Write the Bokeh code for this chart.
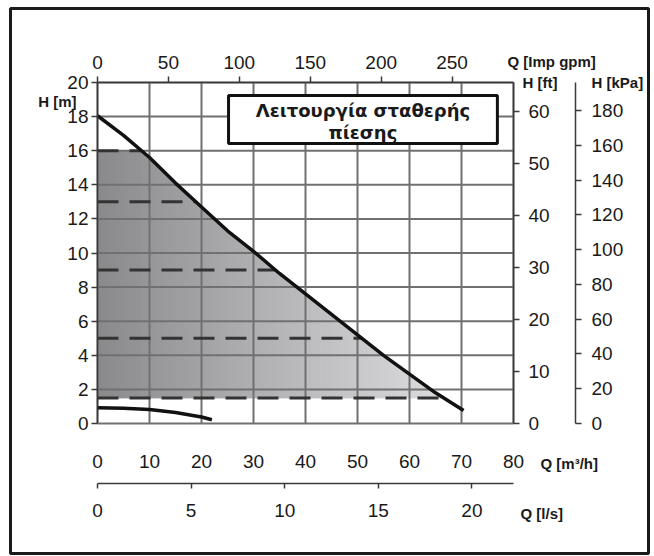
import numpy as np
from bokeh.plotting import figure
from bokeh.models import LinearAxis, Range1d, FixedTicker, Label
from bokeh.embed import file_html
from bokeh.resources import INLINE

# ---------------- data ----------------
pump_q = [0, 5, 10, 15, 20, 25, 30, 35, 40, 45, 50, 55, 60, 65, 70.4]
pump_h = [18.05, 16.9, 15.6, 14.1, 12.7, 11.3, 10.1, 8.8, 7.6, 6.4, 5.2, 4.0, 2.9, 1.8, 0.76]

low_q = [0, 5, 10, 15, 20, 22]
low_h = [0.92, 0.9, 0.82, 0.65, 0.38, 0.22]

dash_levels = [16, 13, 9, 5, 1.5]
zone_top = 16
zone_bottom = 1.5

h_m_ticks = list(range(0, 21, 2))
q_m3h_ticks = list(range(0, 81, 10))
q_gpm_ticks = [0, 50, 100, 150, 200, 250]
q_ls_ticks = [0, 5, 10, 15, 20]
h_ft_ticks = [0, 10, 20, 30, 40, 50, 60]
h_kpa_ticks = [0, 20, 40, 60, 80, 100, 120, 140, 160, 180]

title_lines = ["Λειτουργία σταθερής", "πίεσης"]
box_q = [25.2, 76.9]
box_h = [16.42, 19.24]

Q_MAX = 80
H_MAX = 20
M3H_TO_GPM = 3.6662
M3H_TO_LS = 1 / 3.6
M_TO_FT = 3.28084
M_TO_KPA = 9.80665

# ---------------- layout (pixels) ----------------
CANVAS_W, CANVAS_H = 652, 555
FRAME_L, FRAME_T, FRAME_R, FRAME_B = 10, 8, 648, 553
ORIGIN_X, ORIGIN_Y = 97, 423        # page px of Q=0 / H=0
PX_Q, PX_H = 5.2, 17.05             # px per unit


def qx(px):
    return (px - ORIGIN_X) / PX_Q


def hy(py):
    return (ORIGIN_Y - py) / PX_H


x_lo, x_hi = qx(FRAME_L), qx(FRAME_R)
y_lo, y_hi = hy(FRAME_B), hy(FRAME_T)

TICK_FONT = "Liberation Sans"
TICK_SIZE = "19px"
TXT = "#1a1a1a"
AXC = "#3a3a3a"
GRID = "#707070"

p = figure(frame_width=FRAME_R - FRAME_L, frame_height=FRAME_B - FRAME_T,
           min_border_left=FRAME_L, min_border_right=CANVAS_W - FRAME_R,
           min_border_top=FRAME_T, min_border_bottom=CANVAS_H - FRAME_B,
           x_range=Range1d(x_lo, x_hi), y_range=Range1d(y_lo, y_hi),
           x_axis_location=None, y_axis_location=None,
           toolbar_location=None, output_backend="svg")
p.background_fill_color = "white"
p.border_fill_color = "white"
p.outline_line_color = "#1a1a1a"
p.outline_line_width = 3
p.xgrid.visible = False
p.ygrid.visible = False

p.extra_x_ranges = {"gpm": Range1d(x_lo * M3H_TO_GPM, x_hi * M3H_TO_GPM),
                    "ls": Range1d(x_lo * M3H_TO_LS, x_hi * M3H_TO_LS)}
p.extra_y_ranges = {"ft": Range1d(y_lo * M_TO_FT, y_hi * M_TO_FT),
                    "kpa": Range1d(y_lo * M_TO_KPA, y_hi * M_TO_KPA)}

# ---------------- grid (chart area only) ----------------
p.segment(x0=q_m3h_ticks, y0=[0] * len(q_m3h_ticks),
          x1=q_m3h_ticks, y1=[H_MAX] * len(q_m3h_ticks),
          line_color=GRID, line_width=2, level="underlay")
p.segment(x0=[0] * len(h_m_ticks), y0=h_m_ticks,
          x1=[Q_MAX] * len(h_m_ticks), y1=h_m_ticks,
          line_color=GRID, line_width=2, level="underlay")

# ---------------- shaded zone with horizontal gradient ----------------
q_end = float(np.interp(zone_bottom, pump_h[::-1], pump_q[::-1]))
edges = np.linspace(0, q_end, 80)


def top_of(q):
    return np.minimum(zone_top, np.interp(q, pump_q, pump_h))


xs, ys, cols = [], [], []
n = len(edges) - 1
for i in range(n):
    a, b = edges[i], edges[i + 1]
    xs.append([a, a, b, b])
    ys.append([zone_bottom, float(top_of(a)), float(top_of(b)), zone_bottom])
    t = i / (n - 1)
    g = int(round(138 + t * (220 - 138)))
    cols.append("#%02x%02x%02x" % (g, g, min(255, g + 3)))
p.patches(xs, ys, fill_color=cols, line_color=cols, line_width=1, level="image")

# ---------------- dashed pressure levels ----------------
dash_end = [float(np.interp(lv, pump_h[::-1], pump_q[::-1])) for lv in dash_levels]
p.segment(x0=[0] * len(dash_levels), y0=dash_levels, x1=dash_end, y1=dash_levels,
          line_color="#333333", line_width=3, line_dash="21 11")

# ---------------- curves ----------------
p.line(pump_q, pump_h, line_color="#111111", line_width=3.5)
p.line(low_q, low_h, line_color="#111111", line_width=3.5)

# ---------------- title box ----------------
p.quad(left=[box_q[0]], right=[box_q[1]], bottom=[box_h[0]], top=[box_h[1]],
       fill_color="white", line_color="#111111", line_width=3)
mid_q = (box_q[0] + box_q[1]) / 2
for txt, py in zip(title_lines, [110, 132]):
    p.add_layout(Label(x=mid_q, y=hy(py), text=txt, text_align="center",
                       text_baseline="middle", text_font="DejaVu Sans",
                       text_font_style="bold", text_font_size="18px",
                       text_color=TXT))


# ---------------- axes ----------------
def style_axis(ax, ticks, standoff, tick_out=6, line=True):
    ax.ticker = FixedTicker(ticks=ticks)
    ax.minor_tick_line_color = None
    ax.major_tick_in = 0
    ax.major_tick_out = tick_out
    ax.major_tick_line_color = AXC if tick_out else None
    ax.major_tick_line_width = 1.5
    ax.axis_line_color = AXC if line else None
    ax.axis_line_width = 1.5
    ax.major_label_standoff = standoff
    ax.major_label_text_font = TICK_FONT
    ax.major_label_text_font_size = TICK_SIZE
    ax.major_label_text_color = TXT
    return ax


ax_left = style_axis(LinearAxis(fixed_location=0, bounds=(0, H_MAX)), h_m_ticks, 3)
p.add_layout(ax_left, "left")

ax_top = style_axis(LinearAxis(x_range_name="gpm", fixed_location=H_MAX,
                               bounds=(0, Q_MAX * M3H_TO_GPM)), q_gpm_ticks, 8)
p.add_layout(ax_top, "above")

ax_bot = style_axis(LinearAxis(fixed_location=0, bounds=(0, Q_MAX)),
                    q_m3h_ticks, 31, tick_out=0, line=False)
p.add_layout(ax_bot, "below")

ax_ls = style_axis(LinearAxis(x_range_name="ls", fixed_location=hy(483),
                              bounds=(0, Q_MAX * M3H_TO_LS)), q_ls_ticks, 15, tick_out=5)
p.add_layout(ax_ls, "below")

ax_ft = style_axis(LinearAxis(y_range_name="ft", fixed_location=Q_MAX,
                              bounds=(0, H_MAX * M_TO_FT)), h_ft_ticks, 9)
p.add_layout(ax_ft, "right")

ax_kpa = style_axis(LinearAxis(y_range_name="kpa", fixed_location=qx(575),
                               bounds=(0, H_MAX * M_TO_KPA)), h_kpa_ticks, 10)
p.add_layout(ax_kpa, "right")


# ---------------- axis titles ----------------
def title(text, px, py, align="left"):
    p.add_layout(Label(x=qx(px), y=hy(py), text=text, text_align=align,
                       text_baseline="middle", text_font=TICK_FONT,
                       text_font_style="bold", text_font_size="15px",
                       text_color=TXT))


title("H [m]", 76, 101, "right")
title("Q [Imp gpm]", 507, 61)
title("H [ft]", 522, 82)
title("H [kPa]", 591, 82)
title("Q [m³/h]", 540, 463)
title("Q [l/s]", 520, 513)

open("out.html", "w").write(file_html(p, INLINE))
